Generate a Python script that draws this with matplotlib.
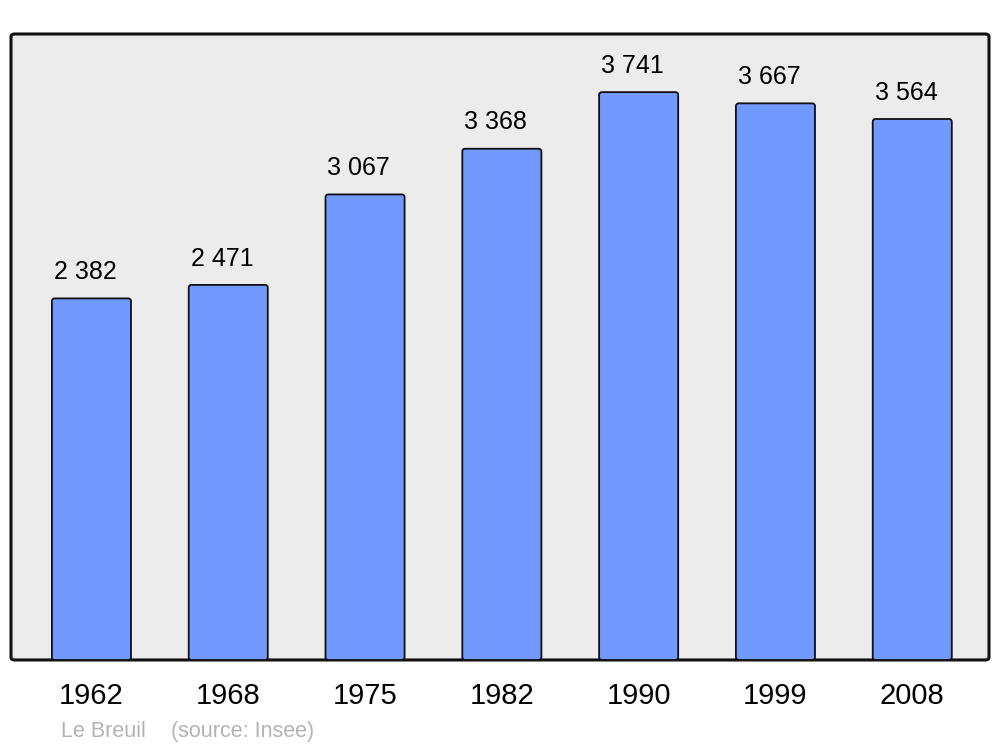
import matplotlib
matplotlib.use("Agg")
import matplotlib.pyplot as plt
from matplotlib.patches import FancyBboxPatch

plt.rcParams['font.family'] = ['Liberation Sans', 'DejaVu Sans']

years = ['1962', '1968', '1975', '1982', '1990', '1999', '2008']
population = [2382, 2471, 3067, 3368, 3741, 3667, 3564]
labels = ['2 382', '2 471', '3 067', '3 368', '3 741', '3 667', '3 564']

fig = plt.figure(figsize=(10, 7.47), dpi=100)
ax = fig.add_axes([0.011, 0.1165, 0.978, 0.838])

# background panel with rounded corners
panel = FancyBboxPatch((0, 0), 1, 1, boxstyle="round,pad=0,rounding_size=0.004",
                       transform=ax.transAxes, facecolor='#ececec',
                       edgecolor='#111111', linewidth=2.2, zorder=0, clip_on=False)
ax.add_patch(panel)

ax.set_xlim(-0.588, 6.561)
ax.set_ylim(0, 4124)

xs = list(range(len(years)))
bars = ax.bar(xs, population, width=0.578, color='#7299ff', edgecolor='#111111',
              linewidth=1.3, zorder=2)

# round the bar corners slightly
aspect = (4124 / 626) / (7.149 / 978)
for b in bars:
    x0, y0 = b.get_x(), b.get_y()
    w, h = b.get_width(), b.get_height()
    b.set_visible(False)
    ax.add_patch(FancyBboxPatch((x0, y0), w, h,
                                boxstyle="round,pad=0,rounding_size=0.02",
                                mutation_aspect=aspect,
                                facecolor='#7299ff', edgecolor='#111111',
                                linewidth=1.3, zorder=2))

for x, v, lab in zip(xs, population, labels):
    ax.annotate(lab, (x, v), xytext=(-4.5, 19), textcoords='offset points',
                ha='center', va='center', fontsize=18, color='black')

for s in ax.spines.values():
    s.set_visible(False)
ax.set_xticks(xs)
ax.set_xticklabels(years, fontsize=21)
ax.tick_params(axis='x', length=0, pad=16)
ax.set_yticks([])
ax.patch.set_visible(False)

fig.text(0.061, 0.021, 'Le Breuil', fontsize=15.5, color='#b3b3b3', ha='left', va='center')
fig.text(0.171, 0.021, '(source: Insee)', fontsize=15.5, color='#b3b3b3', ha='left', va='center')

fig.savefig('out.png', dpi=100)
